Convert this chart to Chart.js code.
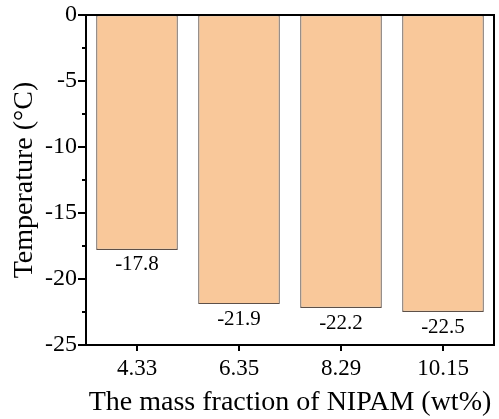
<!DOCTYPE html>
<html><head><meta charset="utf-8">
<script src="https://cdn.jsdelivr.net/npm/chart.js@4/dist/chart.umd.min.js"></script>
<style>html,body{margin:0;padding:0;background:#fff}#w{width:499px;height:419px}</style>
</head><body><div id="w"><canvas id="c"></canvas></div>
<script>
const categories = ['4.33', '6.35', '8.29', '10.15'];
const temperatures = [-17.8, -21.9, -22.2, -22.5];
const valueLabels = ['-17.8', '-21.9', '-22.2', '-22.5'];
const yTicks = [0, -5, -10, -15, -20, -25];
const yMinorTicks = [-2.5, -7.5, -12.5, -17.5, -22.5];
const FONT = '"Liberation Serif", "Times New Roman", serif';

const framePlugin = {
  id: 'frame',
  afterDatasetsDraw(chart) {
    const {ctx, chartArea: a, scales} = chart;
    ctx.save();
    ctx.fillStyle = '#000';
    ctx.font = '21px ' + FONT;
    ctx.textAlign = 'center';
    ctx.textBaseline = 'middle';
    const meta = chart.getDatasetMeta(0);
    meta.data.forEach((bar, i) => {
      ctx.fillText(valueLabels[i], bar.x, scales.y.getPixelForValue(temperatures[i]) + 15);
    });
    ctx.strokeStyle = '#000';
    ctx.lineWidth = 2;
    ctx.strokeRect(a.left, a.top, a.right - a.left, a.bottom - a.top);
    yTicks.forEach(v => {
      const y = scales.y.getPixelForValue(v);
      ctx.beginPath(); ctx.moveTo(a.left - 8, y); ctx.lineTo(a.left, y); ctx.stroke();
    });
    yMinorTicks.forEach(v => {
      const y = scales.y.getPixelForValue(v);
      ctx.beginPath(); ctx.moveTo(a.left - 4, y); ctx.lineTo(a.left, y); ctx.stroke();
    });
    categories.forEach((c, i) => {
      const x = scales.x.getPixelForValue(i);
      ctx.beginPath(); ctx.moveTo(x, a.bottom); ctx.lineTo(x, a.bottom + 6); ctx.stroke();
    });
    ctx.restore();
  }
};

new Chart(document.getElementById('c'), {
  type: 'bar',
  data: {
    labels: categories,
    datasets: [{
      data: temperatures,
      backgroundColor: '#F9C89A',
      borderColor: '#5e5048',
      borderWidth: 1.2,
      borderSkipped: false,
      barPercentage: 0.8,
      categoryPercentage: 1.0
    }]
  },
  options: {
    responsive: true,
    maintainAspectRatio: false,
    animation: false,
    layout: {padding: {top: 15, right: 5, left: 0, bottom: 0}},
    plugins: {legend: {display: false}, tooltip: {enabled: false}},
    scales: {
      x: {
        grid: {display: false, drawTicks: false},
        border: {display: false},
        ticks: {color: '#000', font: {family: FONT, size: 23}, padding: 10},
        title: {display: true, text: 'The mass fraction of NIPAM (wt%)', color: '#000',
                font: {family: FONT, size: 28}, padding: {top: 0, bottom: 0}},
        afterFit(s) { s.height = 74; s.paddingLeft = 0; s.paddingRight = 0; }
      },
      y: {
        min: -25, max: 0,
        afterBuildTicks(s) { s.ticks = yTicks.map(v => ({value: v})); },
        grid: {display: false, drawTicks: false},
        border: {display: false},
        ticks: {color: '#000', font: {family: FONT, size: 24}, padding: 9},
        title: {display: true, text: 'Temperature (°C)', color: '#000',
                font: {family: FONT, size: 28}, padding: {top: 8, bottom: 0}},
        afterFit(s) { s.width = 86; s.paddingTop = 0; s.paddingBottom = 0; }
      }
    }
  },
  plugins: [framePlugin]
});
</script>
</body></html>
